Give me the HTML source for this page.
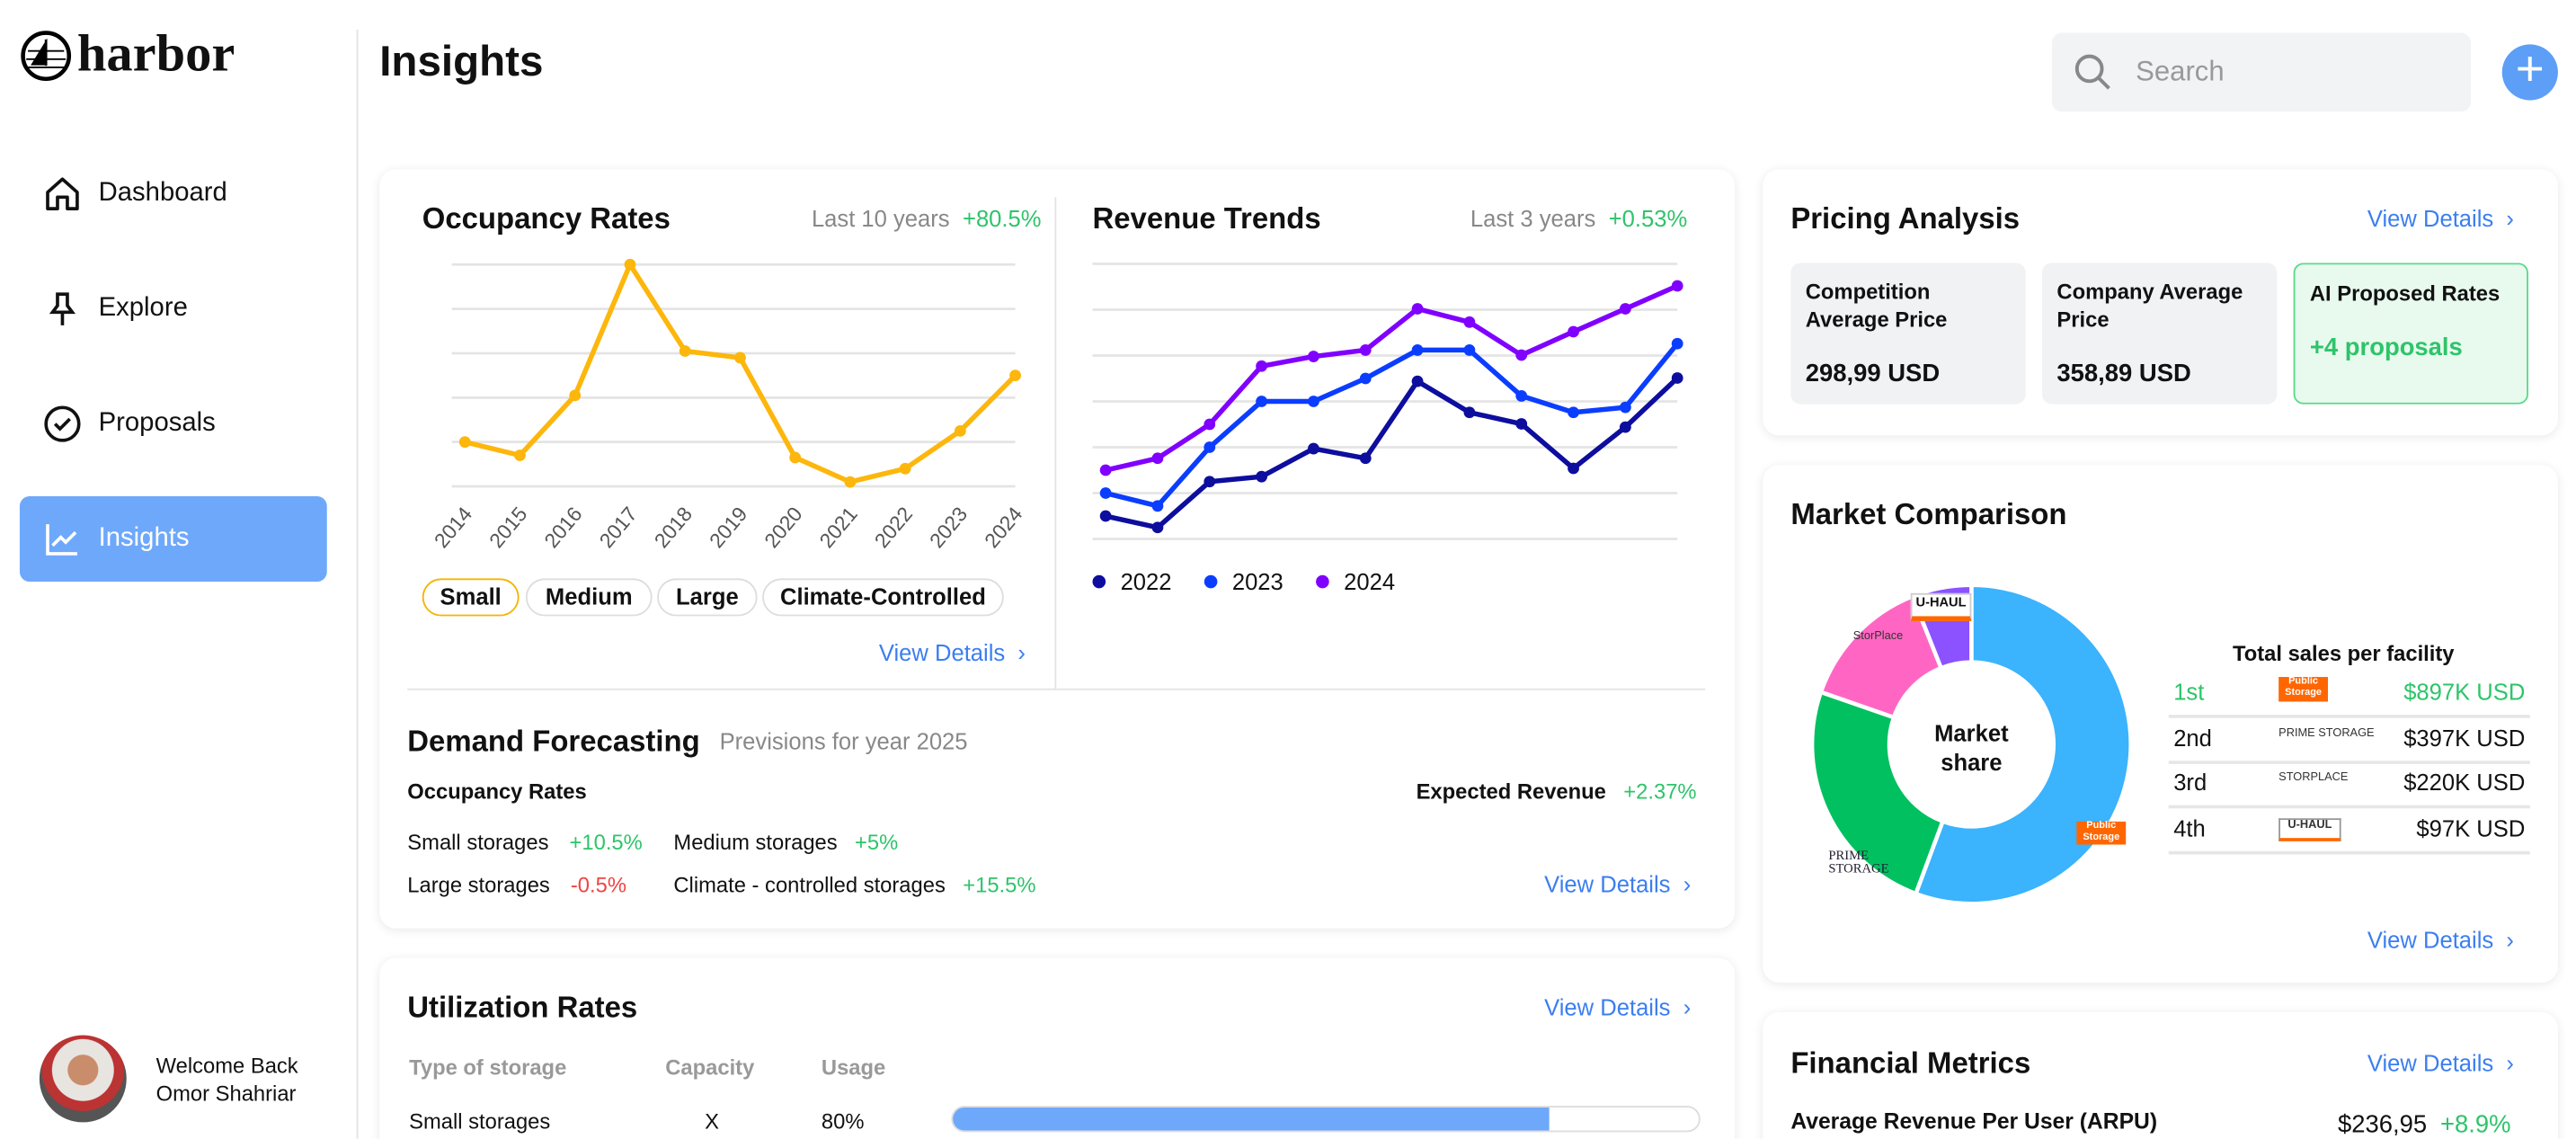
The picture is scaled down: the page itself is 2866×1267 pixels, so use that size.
<!DOCTYPE html>
<html><head><meta charset="utf-8">
<style>
html,body{margin:0;padding:0;background:#fff;width:2866px;height:1266px;overflow:hidden}
#root{position:absolute;left:0;top:0;width:1568px;height:693px;transform:scale(1.82781);transform-origin:0 0;font-family:"Liberation Sans",sans-serif;color:#111;background:#fff;overflow:hidden}
.a{position:absolute;white-space:nowrap}
.card{position:absolute;background:#fff;border-radius:10px;box-shadow:0 1px 6px rgba(0,0,0,.09)}
.t18{font-size:18px;font-weight:bold}
.g{color:#888}.gr{color:#2ec46a}.rd{color:#ef4444}.bl{color:#3b7ef0}
.f13{font-size:13px}.f14{font-size:14px}
.pill{position:absolute;top:352px;height:21px;border:1px solid #ddd;border-radius:12px;font-size:14px;font-weight:bold;line-height:21px;text-align:center}
.box{position:absolute;top:160px;width:143px;height:86px;border-radius:6px;background:#f1f2f4}
.box div{position:absolute;left:9px;font-size:13px;font-weight:bold}
</style></head><body>
<div id="root">
<!-- sidebar -->
<div class="a" style="left:12px;top:14px;height:36px">
<svg width="32" height="32" style="position:absolute;left:0;top:4px" viewBox="0 0 32 32"><circle cx="16" cy="16" r="14" fill="none" stroke="#000" stroke-width="2.5"/><path d="M16 6 L16 22 M16 8 L8 21 L16 21 Z" fill="#000" stroke="#000" stroke-width="1.5"/><path d="M5 13h22M4 18h24M5 23h22" stroke="#000" stroke-width="1"/></svg>
<span style="position:absolute;left:35px;top:0;font-family:'Liberation Serif',serif;font-weight:bold;font-size:32px">harbor</span></div>
<div class="a" style="left:217px;top:18px;width:1px;height:675px;background:#e3e3e3"></div>
<div class="a" style="left:26px;top:106px;font-size:16px"><svg width="24" height="24" style="vertical-align:middle" viewBox="0 0 24 24"><path d="M3 11 L12 3 L21 11 V21 H15 V14 H9 V21 H3 Z" fill="none" stroke="#111" stroke-width="2" stroke-linejoin="round"/></svg><span style="position:absolute;left:34px;top:3px">Dashboard</span></div>
<div class="a" style="left:26px;top:176px;font-size:16px"><svg width="24" height="24" viewBox="0 0 24 24"><path d="M8 3h8M9 3v7l-3 4h12l-3-4V3M12 14v8" fill="none" stroke="#111" stroke-width="2"/></svg><span style="position:absolute;left:34px;top:3px">Explore</span></div>
<div class="a" style="left:26px;top:246px;font-size:16px"><svg width="24" height="24" viewBox="0 0 24 24"><circle cx="12" cy="12" r="10" fill="none" stroke="#111" stroke-width="2"/><path d="M7.5 12l3 3 6-6" fill="none" stroke="#111" stroke-width="2"/></svg><span style="position:absolute;left:34px;top:3px">Proposals</span></div>
<div class="a" style="left:12px;top:302px;width:187px;height:52px;background:#6ea8fb;border-radius:6px;color:#fff;font-size:16px">
<svg width="24" height="24" style="position:absolute;left:14px;top:14px" viewBox="0 0 24 24"><path d="M3 3v18h18M6 16l5-5 3 3 6-6" fill="none" stroke="#fff" stroke-width="2"/></svg><span style="position:absolute;left:48px;top:17px">Insights</span></div>
<div class="a" style="left:24px;top:630px;width:53px;height:53px;border-radius:50%;background:radial-gradient(circle at 50% 40%,#c98d6c 0 22%,#e8e4e0 23% 45%,#b33 46% 60%,#555 61%)"></div>
<div class="a f13" style="left:95px;top:640px;line-height:17px">Welcome Back<br>Omor Shahriar</div>
<!-- header -->
<div class="a" style="left:231px;top:22px;font-size:26px;font-weight:bold">Insights</div>
<div class="a" style="left:1249px;top:20px;width:255px;height:48px;background:#f2f3f5;border-radius:6px">
<svg width="26" height="26" style="position:absolute;left:12px;top:11px" viewBox="0 0 24 24"><circle cx="10" cy="10" r="7" fill="none" stroke="#888" stroke-width="2"/><path d="M15 15l6 6" stroke="#888" stroke-width="2"/></svg>
<span style="position:absolute;left:51px;top:14px;font-size:17px;color:#999">Search</span></div>
<div class="a" style="left:1523px;top:27px;width:34px;height:34px;border-radius:50%;background:#5d9ef7;color:#fff;font-size:30px;line-height:32px;text-align:center">+</div>

<!-- main card -->
<div class="card" style="left:231px;top:103px;width:825px;height:462px"></div>
<div class="a t18" style="left:257px;top:123px">Occupancy Rates</div>
<div class="a f14" style="left:494px;top:125px"><span class="g">Last 10 years</span> <span class="gr" style="margin-left:4px">+80.5%</span></div>
<svg class="a" id="occ" style="left:0;top:0" width="660" height="350"></svg>
<div class="pill" style="left:257px;width:57px;border-color:#f5b400">Small</div>
<div class="pill" style="left:320px;width:75px">Medium</div>
<div class="pill" style="left:400px;width:59px">Large</div>
<div class="pill" style="left:464px;width:145px">Climate-Controlled</div>
<div class="a f14 bl" style="left:535px;top:389px">View Details &nbsp;›</div>
<div class="a" style="left:642px;top:120px;width:1px;height:299px;background:#e3e3e3"></div>
<div class="a t18" style="left:665px;top:123px">Revenue Trends</div>
<div class="a f14" style="left:895px;top:125px"><span class="g">Last 3 years</span> <span class="gr" style="margin-left:4px">+0.53%</span></div>
<svg class="a" id="rev" style="left:0;top:0" width="1060" height="380"></svg>
<div class="a" style="left:248px;top:419px;width:790px;height:1px;background:#e3e3e3"></div>
<div class="a t18" style="left:248px;top:441px">Demand Forecasting</div>
<div class="a f14 g" style="left:438px;top:443px">Previsions for year 2025</div>
<div class="a" style="left:248px;top:474px;font-size:13px;font-weight:bold">Occupancy Rates</div>
<div class="a" style="left:862px;top:474px;font-size:13px"><b>Expected Revenue</b> <span class="gr" style="margin-left:7px">+2.37%</span></div>
<div class="a f13" style="left:248px;top:505px">Small storages <span class="gr" style="margin-left:9px">+10.5%</span></div>
<div class="a f13" style="left:410px;top:505px">Medium storages <span class="gr" style="margin-left:7px">+5%</span></div>
<div class="a f13" style="left:248px;top:531px">Large storages <span class="rd" style="margin-left:9px">-0.5%</span></div>
<div class="a f13" style="left:410px;top:531px">Climate - controlled storages <span class="gr" style="margin-left:7px">+15.5%</span></div>
<div class="a f14 bl" style="left:940px;top:530px">View Details &nbsp;›</div>

<!-- utilization -->
<div class="card" style="left:231px;top:583px;width:825px;height:130px"></div>
<div class="a t18" style="left:248px;top:603px">Utilization Rates</div>
<div class="a f14 bl" style="left:940px;top:605px">View Details &nbsp;›</div>
<div class="a f13 g" style="left:249px;top:642px;font-weight:bold;color:#999">Type of storage</div>
<div class="a f13" style="left:405px;top:642px;font-weight:bold;color:#999">Capacity</div>
<div class="a f13" style="left:500px;top:642px;font-weight:bold;color:#999">Usage</div>
<div class="a f13" style="left:249px;top:675px">Small storages</div>
<div class="a f13" style="left:429px;top:675px">X</div>
<div class="a f13" style="left:500px;top:675px">80%</div>
<div class="a" style="left:579px;top:673px;width:456px;height:16px;border:1px solid #ddd;border-radius:8px;box-sizing:border-box"><div style="width:80%;height:100%;background:#6ea8fb;border-radius:8px 0 0 8px"></div></div>

<!-- pricing -->
<div class="card" style="left:1073px;top:103px;width:484px;height:162px"></div>
<div class="a t18" style="left:1090px;top:123px">Pricing Analysis</div>
<div class="a f14 bl" style="left:1441px;top:125px">View Details &nbsp;›</div>
<div class="box" style="left:1090px"><div style="top:9px;line-height:17px">Competition<br>Average Price</div><div style="top:59px;font-size:15px">298,99 USD</div></div>
<div class="box" style="left:1243px"><div style="top:9px;line-height:17px">Company Average<br>Price</div><div style="top:59px;font-size:15px">358,89 USD</div></div>
<div class="box" style="left:1396px;background:#e8faee;border:1px solid #5ad98a;box-sizing:border-box"><div style="top:10px">AI Proposed Rates</div><div style="top:42px;font-size:15px;color:#2ec46a">+4 proposals</div></div>

<!-- market -->
<div class="card" style="left:1073px;top:283px;width:484px;height:315px"></div>
<div class="a t18" style="left:1090px;top:303px">Market Comparison</div>
<svg class="a" id="donut" style="left:1100px;top:353px" width="200" height="200"></svg>
<div class="a" style="left:1160px;top:437px;width:80px;text-align:center;font-size:14px;font-weight:bold;line-height:18px">Market<br>share</div>
<div class="a" style="left:1163px;top:361px;width:35px;height:13px;background:#fff;border:1px solid #ccc;font-size:8px;font-weight:bold;line-height:10px;text-align:center;border-bottom:3px solid #f60">U-HAUL</div>
<div class="a" style="left:1128px;top:384px;font-size:7px;color:#333">StorPlace</div>
<div class="a" style="left:1264px;top:500px;width:30px;height:14px;background:#f60;color:#fff;font-size:6px;line-height:7px;text-align:center;font-weight:bold">Public<br>Storage</div>
<div class="a" style="left:1113px;top:517px;font-family:'Liberation Serif',serif;font-size:8px;color:#223;line-height:8px">PRIME<br>STORAGE</div>
<div class="a" style="left:1359px;top:390px;font-size:13px;font-weight:bold">Total sales per facility</div>
<div id="salesTable"></div>
<div class="a f14 bl" style="left:1441px;top:564px">View Details &nbsp;›</div>

<!-- financial -->
<div class="card" style="left:1073px;top:616px;width:484px;height:100px"></div>
<div class="a t18" style="left:1090px;top:637px">Financial Metrics</div>
<div class="a f14 bl" style="left:1441px;top:639px">View Details &nbsp;›</div>
<div class="a" style="left:1090px;top:675px;font-size:13.5px;font-weight:bold">Average Revenue Per User (ARPU)</div>
<div class="a" style="left:1423px;top:676px;font-size:15px">$236,95 <span class="gr" style="margin-left:4px">+8.9%</span></div>
</div>
<script>
const NS="http://www.w3.org/2000/svg";
const occYears=["2014","2015","2016","2017","2018","2019","2020","2021","2022","2023","2024"];
const occValues=[20,14,41,100,61,58,13,2,8,25,50];
const revMonths=[1,2,3,4,5,6,7,8,9,10,11,12];
const rev2022=[0.5,0.25,1.25,1.36,1.97,1.76,3.44,2.76,2.51,1.54,2.44,3.51];
const rev2023=[1.0,0.72,2.0,3.0,3.0,3.5,4.12,4.12,3.12,2.76,2.87,4.26];
const rev2024=[1.5,1.76,2.5,3.77,3.98,4.12,5.02,4.73,4.01,4.52,5.02,5.52];
const revLegend=["2022","2023","2024"];
const shareNames=["Public Storage","Prime Storage","StorPlace","U-Haul"];
const shareSales=[897,397,220,97];
const salesRanks=["1st","2nd","3rd","4th"];
const salesLabels=["$897K USD","$397K USD","$220K USD","$97K USD"];
function mk(p,tag,at){const e=document.createElementNS(NS,tag);for(const k in at)e.setAttribute(k,at[k]);p.appendChild(e);return e;}
// occupancy
(function(){
const s=document.getElementById('occ');
const x=i=>283+i*(618-283)/(occYears.length-1), y=v=>296-v*1.35;
for(let g=0;g<=5;g++){const gl=mk(s,'line',{x1:275,x2:618,y1:y(g*20),y2:y(g*20),stroke:'#e4e4e4','stroke-width':1.5});}
const ln=mk(s,'polyline',{points:occValues.map((v,i)=>x(i)+','+y(v)).join(' '),fill:'none',stroke:'#fdb60b','stroke-width':3,'stroke-linejoin':'round'});

occValues.forEach((v,i)=>{const c=mk(s,'circle',{cx:x(i),cy:y(v),r:3.5,fill:'#fdb60b'});
const t=mk(s,'text',{x:x(i)+5,y:313,'font-size':12.5,fill:'#555','text-anchor':'end',transform:`rotate(-50 ${x(i)+5} 313)`,'font-family':'Liberation Sans'});t.textContent=occYears[i];});
})();
// revenue
(function(){
const s=document.getElementById('rev');
const x=i=>673+i*(1021-673)/(revMonths.length-1), y=v=>328-v*27.9;
for(let g=0;g<=6;g++){const gl=mk(s,'line',{x1:665,x2:1021,y1:y(g),y2:y(g),stroke:'#e4e4e4','stroke-width':1.5});}
const series=[rev2022,rev2023,rev2024], cols=['#0d0d9e','#0b3dff','#8000ff'];
series.forEach((d,k)=>{const ln=mk(s,'polyline',{points:d.map((v,i)=>x(i)+','+y(v)).join(' '),fill:'none',stroke:cols[k],'stroke-width':3,'stroke-linejoin':'round'});

d.forEach((v,i)=>{const c=mk(s,'circle',{cx:x(i),cy:y(v),r:3.5,fill:cols[k]});});
const lc=mk(s,'circle',{cx:669+k*68,cy:354,r:4,fill:cols[k]});
const lt=mk(s,'text',{x:682+k*68,y:359,'font-size':14,fill:'#111','font-family':'Liberation Sans'});lt.textContent=revLegend[k];});
})();
// donut
(function(){
const s=document.getElementById('donut');
const cx=100,cy=100,R=97,r=50,tot=shareSales.reduce((a,b)=>a+b,0),cols=['#3bb3fd','#00c060','#ff66c4','#8c52ff'];
let a0=0;
shareSales.forEach((v,i)=>{const a1=a0+v/tot*2*Math.PI;const P=(rad,a)=>[cx+rad*Math.sin(a),cy-rad*Math.cos(a)];
const [x1,y1]=P(R,a0),[x2,y2]=P(R,a1),[x3,y3]=P(r,a1),[x4,y4]=P(r,a0),lg=(a1-a0)>Math.PI?1:0;
const p=mk(s,'path',{d:`M${x1},${y1}A${R},${R} 0 ${lg} 1 ${x2},${y2}L${x3},${y3}A${r},${r} 0 ${lg} 0 ${x4},${y4}Z`,fill:cols[i],stroke:'#fff','stroke-width':2.5});
a0=a1;});
})();
// sales table
(function(){
const root=document.getElementById('root');
salesRanks.forEach((rk,i)=>{const top=408+i*27.5;
const row=document.createElement('div');row.className='a';row.style.cssText=`left:1320px;top:${top}px;width:220px;height:27px;border-bottom:2px solid #e6e6e6;font-size:14px;${i==0?'color:#2ec46a':''}`;


row.innerHTML=`<span style="position:absolute;left:3px;top:5px">${rk}</span><span style="position:absolute;right:3px;top:5px">${salesLabels[i]}</span>`;
const logo=document.createElement('div');logo.className='a';
logo.style.cssText=i==0?'left:67px;top:4px;width:30px;height:15px;background:#f60;color:#fff;font-size:6px;line-height:7px;text-align:center;font-weight:bold':'left:67px;top:7px;width:36px;height:11px;font-size:7px;color:#333;text-align:center;'+(i==3?'border:1px solid #999;border-bottom:2px solid #f60;font-weight:bold':'');
logo.innerHTML=i==0?'Public<br>Storage':shareNames[i].toUpperCase();


row.appendChild(logo);root.appendChild(row);});
})();
</script>
</body></html>
